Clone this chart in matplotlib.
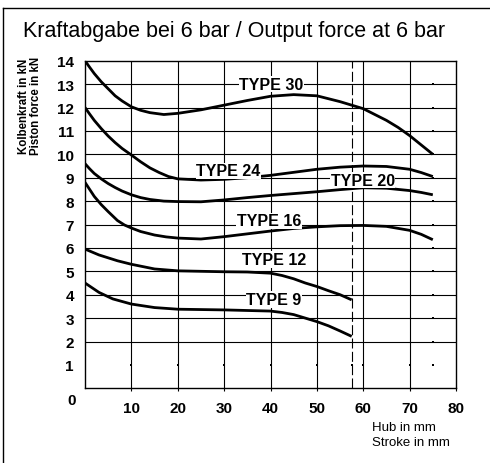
import numpy as np
import matplotlib
matplotlib.use("Agg")
import matplotlib.pyplot as plt
from matplotlib.lines import Line2D

plt.rcParams['font.family'] = ['Liberation Sans', 'DejaVu Sans']

# stroke (mm) / piston force (kN)
type30_x = [0, 1, 2, 3.5, 5, 6.5, 8, 10, 12, 14, 17, 20, 25, 30, 35, 40, 45, 50, 55, 57.5, 60, 62.5, 65, 67.5, 70, 72.5, 75]
type30_y = [14, 13.72, 13.45, 13.1, 12.8, 12.5, 12.28, 12.03, 11.88, 11.78, 11.7, 11.75, 11.9, 12.1, 12.3, 12.48, 12.55, 12.5, 12.25, 12.1, 11.95, 11.7, 11.45, 11.15, 10.8, 10.4, 10.0]

type24_x = [0, 1, 2, 3.5, 5, 6.5, 8, 10, 12, 14, 16, 18, 20, 25, 30, 35, 40, 45, 50, 55, 60, 65, 70, 72.5, 75]
type24_y = [12, 11.72, 11.45, 11.1, 10.78, 10.5, 10.25, 9.97, 9.68, 9.42, 9.22, 9.05, 8.95, 8.9, 8.93, 9.0, 9.1, 9.23, 9.36, 9.45, 9.5, 9.48, 9.36, 9.22, 9.05]

type20_x = [0, 1, 2, 3.5, 5, 6.5, 8, 10, 12, 14, 17, 20, 25, 30, 35, 40, 45, 50, 55, 60, 65, 70, 72.5, 75]
type20_y = [9.6, 9.38, 9.18, 8.95, 8.75, 8.58, 8.43, 8.27, 8.15, 8.07, 8.0, 7.98, 7.97, 8.05, 8.15, 8.24, 8.32, 8.4, 8.49, 8.57, 8.55, 8.45, 8.37, 8.27]

type16_x = [0, 1, 2, 3.5, 5, 7, 8.5, 10, 12, 15, 17.5, 20, 25, 30, 35, 40, 45, 50, 55, 60, 65, 70, 72.5, 75]
type16_y = [8.8, 8.5, 8.2, 7.85, 7.55, 7.17, 6.98, 6.85, 6.7, 6.55, 6.47, 6.42, 6.38, 6.48, 6.6, 6.72, 6.83, 6.9, 6.95, 6.96, 6.92, 6.75, 6.58, 6.35]

type12_x = [0, 3, 7, 10, 15, 20, 25, 30, 35, 40, 42.5, 45, 47.5, 50, 52.5, 55, 57.5]
type12_y = [5.95, 5.7, 5.45, 5.3, 5.1, 5.02, 5.0, 4.98, 4.97, 4.92, 4.82, 4.68, 4.5, 4.35, 4.17, 4.0, 3.78]

type9_x = [0, 3, 6, 10, 15, 20, 30, 40, 42.5, 45, 47.5, 50, 52.5, 55, 57.5]
type9_y = [4.5, 4.1, 3.82, 3.6, 3.45, 3.38, 3.35, 3.3, 3.24, 3.15, 3.0, 2.85, 2.67, 2.45, 2.22]

curves = [(type30_x, type30_y), (type24_x, type24_y), (type20_x, type20_y),
          (type16_x, type16_y), (type12_x, type12_y), (type9_x, type9_y)]

labels = ["TYPE 30", "TYPE 24", "TYPE 20", "TYPE 16", "TYPE 12", "TYPE 9"]
label_x = [40.2, 30.9, 59.9, 39.7, 40.75, 40.75]
label_y = [13.0, 9.3, 8.9, 7.15, 5.5, 3.8]

x_ticks = [10, 20, 30, 40, 50, 60, 70, 80]
y_ticks = list(range(1, 15))
dash_x = 57.5

fig = plt.figure(figsize=(4.9, 4.64), dpi=100)
ax = fig.add_axes([85 / 490, 1 - 389.3 / 464, 371 / 490, (389.3 - 61.7) / 464])
ax.set_xlim(0, 80)
ax.set_ylim(0, 14)

# grid
for xv in x_ticks[:-1]:
    ax.axvline(xv, color='black', lw=0.8, zorder=1)
for yv in range(2, 14):
    ax.axhline(yv, color='black', lw=0.8, zorder=1)
ax.axvline(dash_x, color='black', lw=0.8, dashes=(9, 3), zorder=1)

# dots where there are no lines
dot_x = [xv for xv in x_ticks[:-1]] + [dash_x]
ax.plot(dot_x, [1] * len(dot_x), 's', color='black', ms=1.5, mew=0, zorder=1)
ax.plot([75] * 13, list(range(1, 14)), 's', color='black', ms=1.8, mew=0, zorder=1)

for cx, cy in curves:
    ax.plot(cx, cy, color='black', lw=2.0, solid_capstyle='butt', zorder=3)

for txt, lx, ly in zip(labels, label_x, label_y):
    ax.text(lx, ly, txt, ha='center', va='center', fontsize=11.5, fontweight='bold',
            bbox=dict(facecolor='white', edgecolor='none', pad=0.5), zorder=4)

for s in ax.spines.values():
    s.set_linewidth(1.0)

ax.set_xticks(x_ticks)
ax.set_xticklabels([str(v) for v in x_ticks], fontsize=11, fontweight='bold')
ax.set_yticks(y_ticks)
ax.set_yticklabels([str(v) for v in y_ticks], fontsize=11, fontweight='bold')
ax.tick_params(axis='x', direction='out', length=2, width=0.8, pad=7)
ax.tick_params(axis='y', length=0, pad=8)
ax.text(-2.8, -0.5, "0", ha='center', va='center', fontsize=11, fontweight='bold',
        clip_on=False)

fig.text(23 / 490, 1 - 31 / 464, "Kraftabgabe bei 6 bar / Output force at 6 bar",
         ha='left', va='center', fontsize=15.5)
fig.text(24 / 490, 1 - 106 / 464, "Kolbenkraft in kN", rotation=90, ha='center',
         va='center', fontsize=8.3, fontweight='bold')
fig.text(36 / 490, 1 - 106 / 464, "Piston force in kN", rotation=90, ha='center',
         va='center', fontsize=8.3, fontweight='bold')
fig.text(372 / 490, 1 - 428 / 464, "Hub in mm", ha='left', va='center', fontsize=9.5)
fig.text(372 / 490, 1 - 443 / 464, "Stroke in mm", ha='left', va='center', fontsize=9.5)

# outer frame (only left and top visible)
fig.add_artist(Line2D([3 / 490, 3 / 490], [0, 1 - 9 / 464], color='black', lw=1.0,
                      transform=fig.transFigure))
fig.add_artist(Line2D([3 / 490, 1], [1 - 9 / 464, 1 - 9 / 464], color='black', lw=1.0,
                      transform=fig.transFigure))

fig.savefig("out.png", dpi=100)
